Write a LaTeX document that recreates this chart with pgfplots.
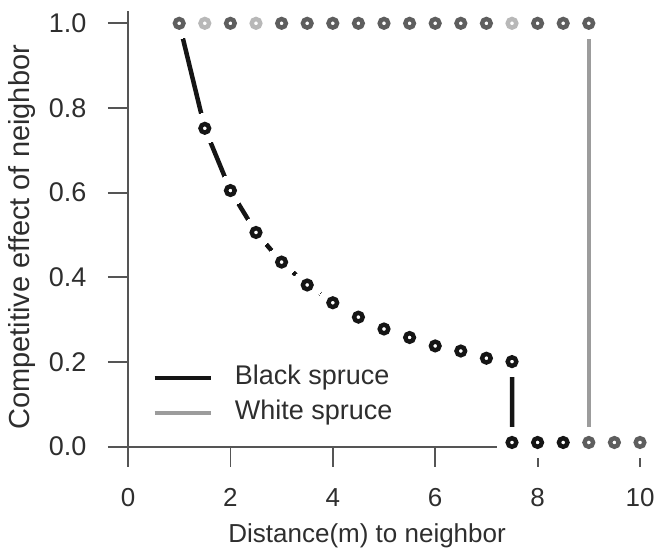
\documentclass[border=0pt]{standalone}
\usepackage{pgfplots}
\pgfplotsset{compat=1.18}
\usepackage{fontspec}
\setmainfont{Liberation Sans}

\definecolor{axisgray}{HTML}{555555}
\definecolor{txtgray}{HTML}{2E2E2E}
\definecolor{blackline}{HTML}{151515}
\definecolor{whiteline}{HTML}{9C9C9C}
\definecolor{ringdark}{HTML}{5E5E5E}
\definecolor{ringlight}{HTML}{B8B8B8}

% black spruce (line + rings)
\pgfplotstableread{
x y
1.0 1.0
1.5 0.752
2.0 0.605
2.5 0.506
3.0 0.436
3.5 0.382
4.0 0.340
4.5 0.306
5.0 0.278
5.5 0.258
6.0 0.238
6.5 0.226
7.0 0.209
7.5 0.201
7.5 0.01
8.0 0.01
8.5 0.01
9.0 0.01
9.5 0.01
10.0 0.01
}\blackspruce

% white spruce
\pgfplotstableread{
x y
1.0 1.0
1.5 1.0
2.0 1.0
2.5 1.0
3.0 1.0
3.5 1.0
4.0 1.0
4.5 1.0
5.0 1.0
5.5 1.0
6.0 1.0
6.5 1.0
7.0 1.0
7.5 1.0
8.0 1.0
8.5 1.0
9.0 1.0
9.0 0.01
9.5 0.01
10.0 0.01
}\whitespruce

\begin{document}
\begin{tikzpicture}
\begin{axis}[
  at={(0pt,0pt)}, anchor=south west,
  scale only axis, width=512pt, height=436.1pt,
  xmin=0, xmax=10, ymin=0, ymax=1.03,
  axis lines=left,
  axis line style={-, draw=axisgray, line width=1.8pt},
  axis on top,
  tick align=outside, major tick length=20pt,
  tick style={draw=axisgray, line width=1.8pt},
  xtick={0,2,4,6,8,10},
  ytick={0,0.2,0.4,0.6,0.8,1},
  /pgf/number format/assume math mode=true,
  yticklabel style={/pgf/number format/fixed, /pgf/number format/fixed zerofill, /pgf/number format/precision=1},
  every x tick label/.append style={font=\fontsize{26}{30}\selectfont, text=txtgray, anchor=base, yshift=-40pt},
  every y tick label/.append style={font=\fontsize{27}{30}\selectfont, text=txtgray, anchor=east, xshift=-18pt},
  xlabel={Distance(m) to neighbor},
  ylabel={Competitive effect of neighbor},
  every axis x label/.style={at={(rel axis cs:0.467,0)}, anchor=base, yshift=-96pt,
    font=\fontsize{26}{30}\selectfont, text=txtgray},
  every axis y label/.style={at={(rel axis cs:0,0.48)}, xshift=-106pt, rotate=90, anchor=center,
    font=\fontsize{29}{32}\selectfont, text=txtgray},
  legend image code/.code={\draw[#1] (0pt,0pt) -- (56pt,0pt); \path (78pt,0pt);},
  legend cell align=left,
  legend style={at={(rel axis cs:0.047,0.198)}, anchor=north west, draw=none, fill=none,
    inner sep=0pt, row sep=0pt, font=\fontsize{27}{30}\selectfont, text=txtgray,
    nodes={inner xsep=0pt, inner ysep=5pt, text height=19pt, text depth=6pt}},
]
% lines
\addplot[whiteline, line width=4.5pt, forget plot] table {\whitespruce};
\addplot[blackline, line width=4.5pt, forget plot] table {\blackspruce};
% white halos round every ring
\addplot[only marks, mark=*, mark size=15pt, mark options={fill=white, draw=white, line width=0pt}, forget plot] table {\whitespruce};
\addplot[only marks, mark=*, mark size=15pt, mark options={fill=white, draw=white, line width=0pt}, forget plot] table {\blackspruce};
% rings
\addplot[only marks, mark=*, mark size=4.3pt, mark options={fill=white, draw=ringdark, line width=4.4pt}, forget plot]
  coordinates {(1,1) (2,1) (3,1) (3.5,1) (4,1) (4.5,1) (5,1) (5.5,1) (6,1) (6.5,1) (7,1) (8,1) (8.5,1) (9,1) (9,0.01) (9.5,0.01) (10,0.01)};
\addplot[only marks, mark=*, mark size=4.3pt, mark options={fill=white, draw=ringlight, line width=4.4pt}, forget plot]
  coordinates {(1.5,1) (2.5,1) (7.5,1)};
\addplot[only marks, mark=*, mark size=4.3pt, mark options={fill=white, draw=blackline, line width=4.4pt}, forget plot]
  coordinates {(1.5,0.752) (2,0.605) (2.5,0.506) (3,0.436) (3.5,0.382) (4,0.340) (4.5,0.306) (5,0.278) (5.5,0.258) (6,0.238) (6.5,0.226) (7,0.209) (7.5,0.201) (7.5,0.01) (8,0.01) (8.5,0.01)};
\addlegendimage{blackline, line width=4.6pt}
\addlegendentry{Black spruce}
\addlegendimage{whiteline, line width=4pt}
\addlegendentry{White spruce}
\end{axis}
\pgfresetboundingbox
\path[use as bounding box] (-128pt,-110.3pt) rectangle (533pt,446.7pt);
\end{tikzpicture}
\end{document}
